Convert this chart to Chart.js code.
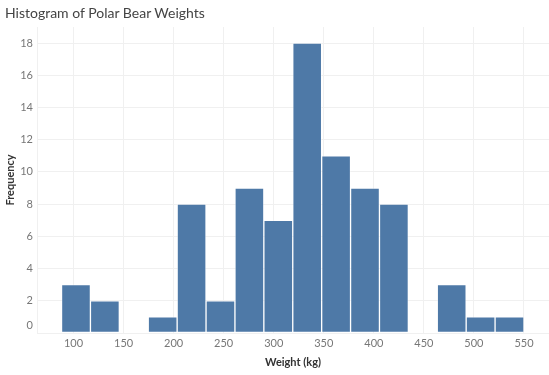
<!DOCTYPE html>
<html>
<head>
<meta charset="utf-8">
<script src="https://cdn.jsdelivr.net/npm/chart.js@4.4.1/dist/chart.umd.min.js"></script>
<style>
  body { margin: 0; background: #fff; }
  #wrap { position: relative; width: 549px; height: 375px; }
  #title { position: absolute; left: 5px; top: 4px; font: 14px Lato, sans-serif; color: #444; }
</style>
</head>
<body>
<div id="wrap">
  <div id="title">Histogram of Polar Bear Weights</div>
  <canvas id="chart" width="549" height="375"></canvas>
</div>
<script>
// Histogram bins (kg)
const binMin = 88;
const binWidth = 28.875;
const counts = [3, 2, 0, 1, 8, 2, 9, 7, 18, 11, 9, 8, 0, 3, 1, 1];

// Axis ticks
const xTicks = [100, 150, 200, 250, 300, 350, 400, 450, 500, 550];
const yTicks = [0, 2, 4, 6, 8, 10, 12, 14, 16, 18];

const points = counts.map((c, i) => ({ x: binMin + binWidth * (i + 0.5), y: c }));

const gridColor = '#f0f0f0';
const tickFont = { family: 'Lato, sans-serif', size: 11 };

// y labels drawn by hand so the bottom "0" sits just inside the plot, like Tableau does
const yLabels = {
  id: 'yLabels',
  afterDraw(chart) {
    const s = chart.scales.y;
    const c = chart.ctx;
    c.save();
    c.font = '11px Lato, sans-serif';
    c.fillStyle = '#777';
    c.textAlign = 'right';
    c.textBaseline = 'middle';
    yTicks.forEach(v => {
      let y = s.getPixelForValue(v);
      if (y > s.bottom - 8) y = s.bottom - 8;
      c.fillText(String(v), s.right - 4, y);
    });
    c.restore();
  }
};

const ctx = document.getElementById('chart').getContext('2d');
new Chart(ctx, {
  type: 'bar',
  data: {
    datasets: [{
      data: points,
      backgroundColor: '#4e79a7',
      borderColor: 'rgba(255,255,255,0.35)',
      borderWidth: 1,
      borderSkipped: false,
      barPercentage: 1,
      categoryPercentage: 1
    }]
  },
  options: {
    responsive: false,
    animation: false,
    layout: { padding: { top: 27, left: 0, right: 0, bottom: 0 } },
    plugins: { legend: { display: false }, tooltip: { enabled: false } },
    scales: {
      x: {
        type: 'linear',
        offset: false,
        min: 63.5,
        max: 575,
        afterBuildTicks: s => { s.ticks = xTicks.map(v => ({ value: v })); },
        afterFit: s => { s.height = 42; },
        grid: { color: gridColor, drawTicks: false, offset: false },
        border: { color: gridColor },
        ticks: { color: '#777', font: tickFont, padding: 4, maxRotation: 0 },
        title: {
          display: true, text: 'Weight (kg)', color: '#333',
          font: { family: 'Lato, sans-serif', size: 11, weight: 'bold' },
          padding: { top: 0, bottom: 6 }
        }
      },
      y: {
        min: 0,
        max: 19,
        afterBuildTicks: s => { s.ticks = yTicks.map(v => ({ value: v })); },
        afterFit: s => { s.width = 37; },
        grid: { color: gridColor, drawTicks: false },
        border: { color: gridColor },
        ticks: { display: false },
        title: {
          display: true, text: 'Frequency', color: '#333',
          font: { family: 'Lato, sans-serif', size: 11, weight: 'bold' },
          padding: { top: 4, bottom: 0 }
        }
      }
    }
  },
  plugins: [yLabels]
});
</script>
</body>
</html>
